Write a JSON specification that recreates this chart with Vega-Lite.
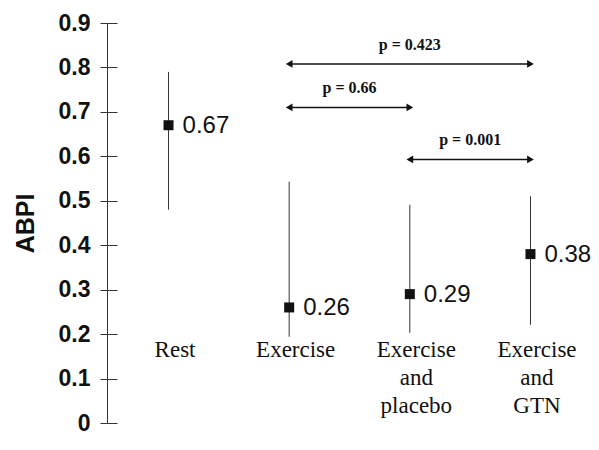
{
  "$schema": "https://vega.github.io/schema/vega-lite/v6.json",
  "autosize": "none",
  "padding": {"left": 107, "top": 23, "right": 7, "bottom": 27},
  "width": 485,
  "height": 400,
  "background": "white",
  "config": {"view": {"stroke": null}},
  "datasets": {
    "groups": [
      {"condition": "Rest", "mean": 0.67, "lo": 0.48, "hi": 0.79},
      {"condition": "Exercise", "mean": 0.26, "lo": 0.194, "hi": 0.543},
      {"condition": "Exercise and placebo", "mean": 0.29, "lo": 0.203, "hi": 0.491},
      {"condition": "Exercise and GTN", "mean": 0.38, "lo": 0.221, "hi": 0.51}
    ],
    "comparisons": [
      {"from": "Exercise", "to": "Exercise and GTN", "level": 0.808, "label": "p = 0.423"},
      {"from": "Exercise", "to": "Exercise and placebo", "level": 0.71, "label": "p = 0.66"},
      {"from": "Exercise and placebo", "to": "Exercise and GTN", "level": 0.593, "label": "p = 0.001"}
    ]
  },
  "resolve": {"axis": {"y": "independent"}},
  "layer": [
    {
      "data": {"name": "groups"},
      "mark": {"type": "rule", "color": "#333", "strokeWidth": 1},
      "encoding": {
        "x": {
          "field": "condition", "type": "nominal", "sort": null,
          "scale": {"type": "point", "padding": 0.51},
          "axis": {
            "title": null, "domain": false, "ticks": false,
            "offset": -85, "labelPadding": 0, "labelBaseline": "top",
            "labelFont": "Liberation Serif", "labelFontSize": 23, "labelColor": "#111",
            "labelLineHeight": 28, "labelOffset": 6, "labelAngle": 0,
            "labelExpr": "split(datum.label, ' ')"
          }
        },
        "y": {
          "field": "lo", "type": "quantitative",
          "scale": {"domain": [0, 0.9], "nice": false, "zero": true},
          "axis": {
            "orient": "left", "values": [0, 0.1, 0.2, 0.3, 0.4, 0.5, 0.6, 0.7, 0.8, 0.9],
            "format": ".1~f", "grid": false, "domainColor": "#333", "tickColor": "#333",
            "tickSize": 7, "labelPadding": 10,
            "labelFont": "Liberation Sans", "labelFontSize": 23, "labelFontWeight": "bold", "labelColor": "#111",
            "title": "ABPI", "titleFont": "Liberation Sans", "titleFontSize": 25, "titleFontWeight": "bold",
            "titleColor": "#111", "titlePadding": 20
          }
        },
        "y2": {"field": "hi"}
      }
    },
    {
      "data": {"name": "groups"},
      "mark": {"type": "point", "shape": "square", "filled": true, "size": 100, "color": "#111", "opacity": 1},
      "encoding": {
        "x": {"field": "condition", "type": "nominal", "sort": null},
        "y": {
          "field": "mean", "type": "quantitative",
          "axis": {
            "orient": "right", "offset": -485, "values": [0, 0.1, 0.2, 0.3, 0.4, 0.5, 0.6, 0.7, 0.8, 0.9],
            "labels": false, "domain": false, "grid": false, "title": null,
            "tickSize": 10, "tickColor": "#333"
          }
        }
      }
    },
    {
      "data": {"name": "groups"},
      "mark": {"type": "text", "align": "left", "baseline": "middle", "dx": 14, "dy": 1,
               "font": "Liberation Sans", "fontSize": 24, "color": "#111"},
      "encoding": {
        "x": {"field": "condition", "type": "nominal", "sort": null},
        "y": {"field": "mean", "type": "quantitative", "axis": null},
        "text": {"field": "mean", "type": "quantitative", "format": ".2f"}
      }
    },
    {
      "data": {"name": "comparisons"},
      "mark": {"type": "rule", "color": "#111", "strokeWidth": 1.5},
      "encoding": {
        "x": {"field": "from", "type": "nominal", "sort": null},
        "x2": {"field": "to"},
        "y": {"field": "level", "type": "quantitative", "axis": null}
      }
    },
    {
      "data": {"name": "comparisons"},
      "mark": {"type": "point", "shape": "triangle-left", "filled": true, "size": 60, "color": "#111", "opacity": 1},
      "encoding": {
        "x": {"field": "from", "type": "nominal", "sort": null},
        "y": {"field": "level", "type": "quantitative", "axis": null}
      }
    },
    {
      "data": {"name": "comparisons"},
      "mark": {"type": "point", "shape": "triangle-right", "filled": true, "size": 60, "color": "#111", "opacity": 1},
      "encoding": {
        "x": {"field": "to", "type": "nominal", "sort": null},
        "y": {"field": "level", "type": "quantitative", "axis": null}
      }
    },
    {
      "data": {"name": "comparisons"},
      "mark": {"type": "text", "align": "center", "baseline": "alphabetic", "dy": -14,
               "font": "Liberation Serif", "fontSize": 16, "fontWeight": "bold", "color": "#111"},
      "encoding": {
        "x": {"value": {"expr": "(scale('x', datum.from) + scale('x', datum.to)) / 2"}},
        "y": {"field": "level", "type": "quantitative", "axis": null},
        "text": {"field": "label"}
      }
    }
  ]
}
